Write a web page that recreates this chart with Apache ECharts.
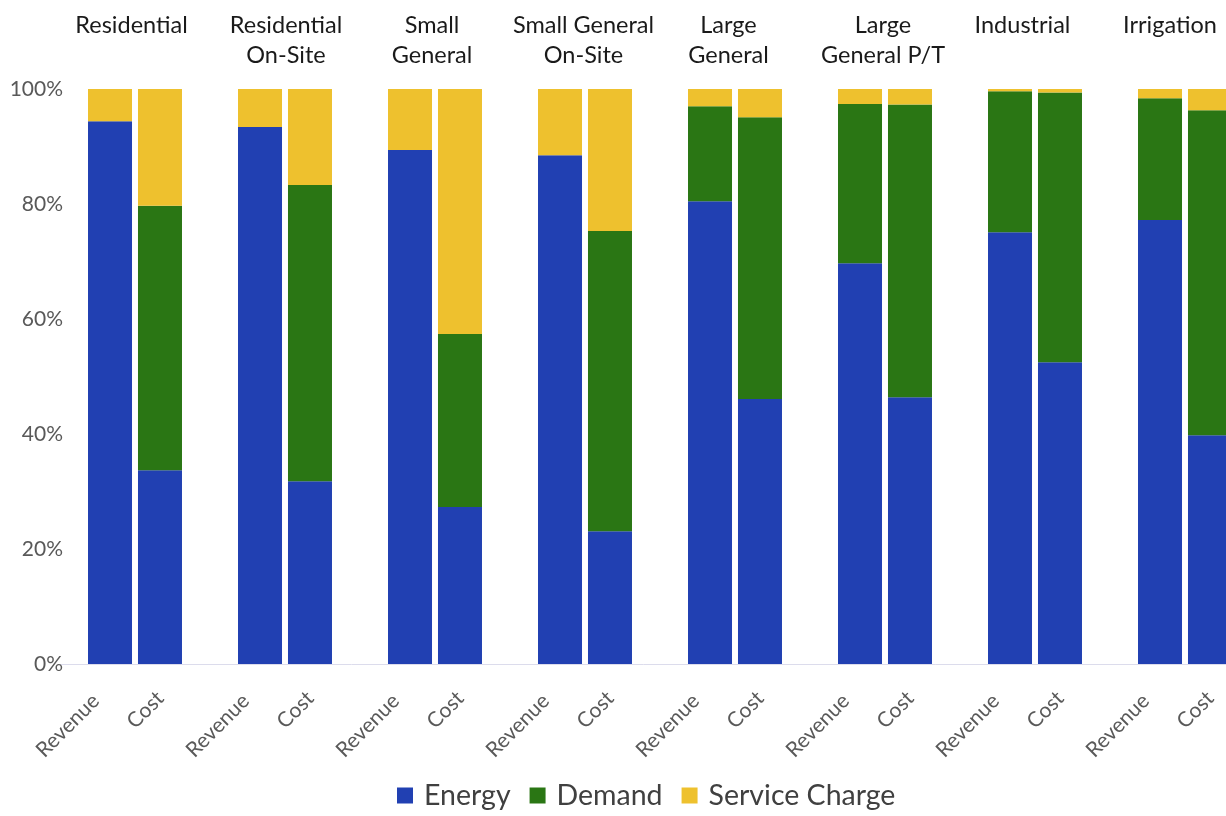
<!DOCTYPE html>
<html>
<head>
<meta charset="utf-8">
<script src="https://cdn.jsdelivr.net/npm/echarts@6/dist/echarts.min.js"></script>
<style>
html,body{margin:0;padding:0;background:#fff;}
#chart{width:1226px;height:816px;}
</style>
</head>
<body>
<div id="chart"></div>
<script>
const groups = ['Residential', 'Residential\nOn-Site', 'Small\nGeneral', 'Small General\nOn-Site', 'Large\nGeneral', 'Large\nGeneral P/T', 'Industrial', 'Irrigation'];
const barLabels = ['Revenue', 'Cost'];
const seriesNames = ['Energy', 'Demand', 'Service Charge'];
const revenueEnergy  = [94.4, 93.4, 89.4, 88.5, 80.5, 69.7, 75.1, 77.2];
const revenueDemand  = [0, 0, 0, 0, 16.5, 27.7, 24.5, 21.2];
const revenueService = [5.6, 6.6, 10.6, 11.5, 3.0, 2.6, 0.4, 1.6];
const costEnergy  = [33.7, 31.8, 27.3, 23.1, 46.1, 46.4, 52.5, 39.8];
const costDemand  = [46.0, 51.5, 30.1, 52.2, 49.0, 50.9, 46.9, 56.5];
const costService = [20.3, 16.7, 42.6, 24.7, 4.9, 2.7, 0.6, 3.7];
const yTicks = [0, 20, 40, 60, 80, 100];

const colors = ['#2140b2', '#2a7614', '#eec12e'];
const FONT = 'Lato';

// small horizontal nudges of the group titles (px to the left), as placed in the original
const titleShift = [3.5, -1, 3, 1.5, 6.5, 2, 12.5, 15];

// bottom axis: boundary positions; Revenue/Cost sit at 1/3 and 2/3 of each group slot
const bottomLabels = [''];
groups.forEach(() => { bottomLabels.push(barLabels[0], barLabels[1], ''); });

const titleRich = {};
titleShift.forEach((s, i) => {
  titleRich['t' + i] = {
    fontSize: 23.5, color: '#1a1a1a', fontFamily: FONT, lineHeight: 30,
    padding: [0, Math.max(0, 2 * s), 0, Math.max(0, -2 * s)]
  };
});

const chart = echarts.init(document.getElementById('chart'), null, {renderer: 'canvas'});

function mk(name, stack, data, colorIdx) {
  return {
    name: name, type: 'bar', stack: stack, data: data,
    xAxisIndex: 0, yAxisIndex: 0,
    barWidth: 44, barGap: '13.6%',
    itemStyle: {color: colors[colorIdx]},
    emphasis: {disabled: true}
  };
}

chart.setOption({
  backgroundColor: '#ffffff',
  animation: false,
  textStyle: {fontFamily: FONT},
  grid: {left: 60, width: 1200, top: 89, height: 575, outerBoundsMode: 'none', containLabel: false},
  legend: {
    data: seriesNames,
    bottom: 1, left: 392,
    itemWidth: 16, itemHeight: 16, itemGap: 19,
    icon: 'rect',
    textStyle: {fontFamily: FONT, fontSize: 28.5, color: '#404040', padding: [0, 0, 0, 6]}
  },
  xAxis: [
    {
      type: 'category', position: 'top', data: groups,
      axisLine: {show: false}, axisTick: {show: false},
      axisLabel: {
        interval: 0, fontSize: 23.5, color: '#1a1a1a', fontFamily: FONT,
        verticalAlign: 'top', margin: 79, lineHeight: 30,
        formatter: function (v, i) {
          return v.split('\n').map(function (s) { return '{t' + i + '|' + s + '}'; }).join('\n');
        },
        rich: titleRich
      }
    },
    {
      type: 'category', position: 'bottom', data: bottomLabels, boundaryGap: false,
      axisLine: {show: true, lineStyle: {color: '#dcdcec', width: 1}},
      axisTick: {show: false},
      axisLabel: {
        interval: 0, rotate: 45, color: '#595959', fontFamily: FONT, margin: 25,
        formatter: function (v) { return v === barLabels[0] ? '{r|' + v + '}' : (v ? '{c|' + v + '}' : ''); },
        rich: {
          r: {fontSize: 21, color: '#595959', fontFamily: FONT, padding: [0, 16, 8, 0]},
          c: {fontSize: 21, color: '#595959', fontFamily: FONT, padding: [9, 4, 0, 0]}
        }
      }
    }
  ],
  yAxis: {
    type: 'value', min: 0, max: 100, interval: 20,
    axisLine: {show: false}, axisTick: {show: false}, splitLine: {show: false},
    axisLabel: {
      fontSize: 21, color: '#595959', fontFamily: FONT, margin: -3,
      formatter: function (v) { return yTicks.indexOf(v) >= 0 ? v + '%' : ''; }
    }
  },
  series: [
    mk(seriesNames[0], 'rev', revenueEnergy, 0),
    mk(seriesNames[1], 'rev', revenueDemand, 1),
    mk(seriesNames[2], 'rev', revenueService, 2),
    mk(seriesNames[0], 'cost', costEnergy, 0),
    mk(seriesNames[1], 'cost', costDemand, 1),
    mk(seriesNames[2], 'cost', costService, 2)
  ]
});
</script>
</body>
</html>
